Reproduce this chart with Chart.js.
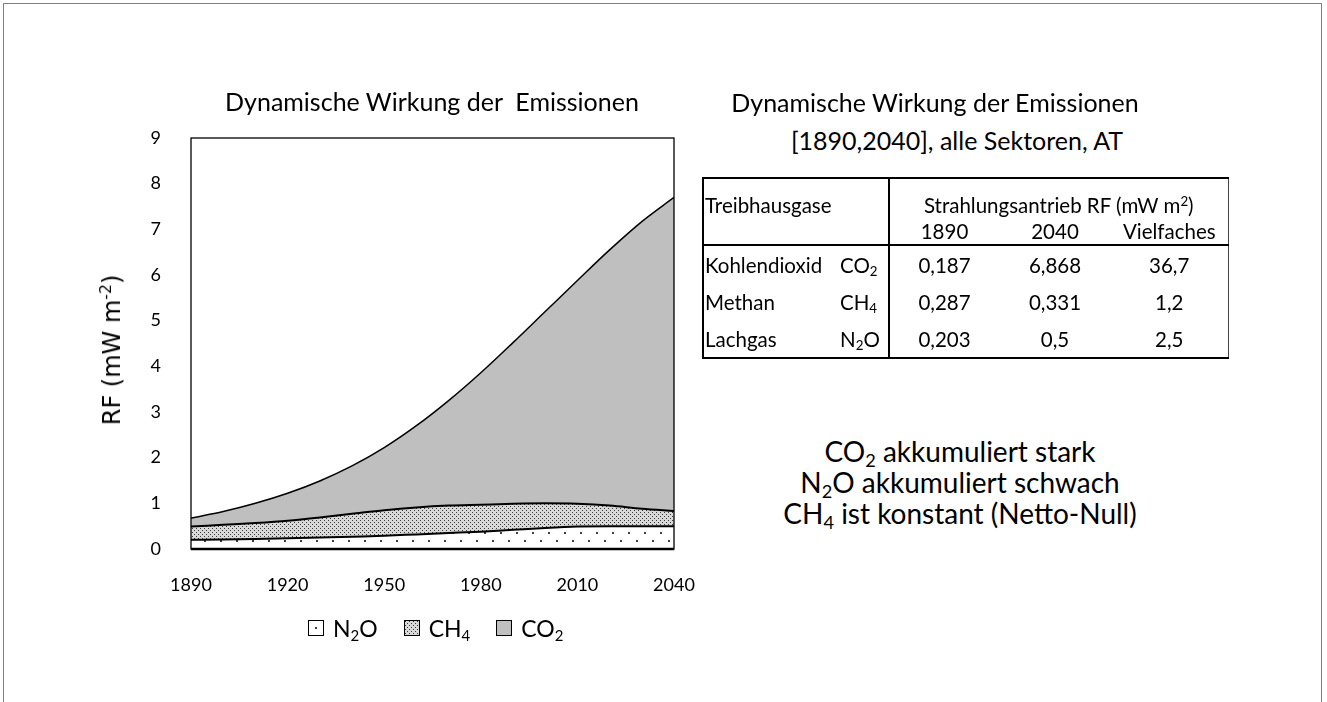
<!DOCTYPE html>
<html>
<head>
<meta charset="utf-8">
<script src="https://cdn.jsdelivr.net/npm/chart.js@4.4.1/dist/chart.umd.min.js"></script>
<style>
    body { margin: 0; background: #fff; font-family: Lato, sans-serif; color: #000; }
    #page { position: relative; width: 1327px; height: 702px; overflow: hidden; background: #fff; }
    #frame { position: absolute; left: 3px; top: 3px; width: 1319px; height: 720px; border: 1px solid #808080; box-sizing: border-box; }
    #chart { position: absolute; left: 0; top: 0; }
    .txt { position: absolute; white-space: pre; transform: translate(-50%, -50%); line-height: 1; }
    sub { font-size: 0.65em; vertical-align: -0.25em; line-height: 0; }
    sup { font-size: 0.65em; vertical-align: 0.55em; line-height: 0; }
    #ytitle { position: absolute; left: 112px; top: 350px; transform: translate(-50%, -50%) rotate(-90deg);
              font-family: "DejaVu Sans", sans-serif; font-size: 24px; white-space: pre; }
    #legend { position: absolute; left: 308px; top: 612px; display: flex; align-items: center; font-size: 23px; height: 32px; }
    #legend .item { display: flex; align-items: center; margin-right: 26px; }
    #legend canvas { border: 1px solid #000; margin-right: 9px; }
    #rf-table { position: absolute; left: 702px; top: 177px; width: 525px; border-collapse: collapse; table-layout: fixed;
                font-size: 20.5px; border-top: 2px solid #000; border-bottom: 2px solid #000; border-left: 2px solid #000; border-right: 1px solid #444; }
    #rf-table td { padding: 0 1px; white-space: nowrap; }
    #rf-table .num { text-align: center; }
    #rf-table .sep { border-right: 2px solid #000; padding-left: 6px; }
    #rf-table tr.h1 td { height: 38px; vertical-align: bottom; padding-bottom: 1px; }
    #rf-table tr.h2 td { height: 26px; border-bottom: 2px solid #000; }
    #rf-table tr.row td { height: 37px; }
    #notes { position: absolute; left: 960px; top: 436px; transform: translateX(-50%); text-align: center; font-size: 28px; line-height: 31px; white-space: pre; }
</style>
</head>
<body>
<div id="page">
    <div id="frame"></div>
    <canvas id="chart" width="720" height="702"></canvas>

    <div class="txt" style="left:432px; top:101px; font-size:25px;">Dynamische Wirkung der  Emissionen</div>
    <div id="ytitle">RF (mW m<sup>-2</sup>)</div>
    <div id="legend"></div>

    <div class="txt" style="left:935px; top:102px; font-size:25px;">Dynamische Wirkung der Emissionen</div>
    <div class="txt" style="left:957px; top:140px; font-size:25px;">[1890,2040], alle Sektoren, AT</div>

    <table id="rf-table">
        <colgroup><col style="width:131px"><col style="width:55px"><col style="width:110px"><col style="width:112px"><col style="width:117px"></colgroup>
        <tr class="h1"><td>Treibhausgase</td><td class="sep"></td><td class="num" colspan="3">Strahlungsantrieb RF (mW m<sup>2</sup>)</td></tr>
        <tr class="h2"><td></td><td class="sep"></td><td class="num">1890</td><td class="num">2040</td><td class="num">Vielfaches</td></tr>
        <tbody id="rf-body"></tbody>
    </table>

    <div id="notes">CO<sub>2</sub> akkumuliert stark
N<sub>2</sub>O akkumuliert schwach
CH<sub>4</sub> ist konstant (Netto-Null)</div>
</div>

<script>
// Jahre und Werte (mW m-2), je Gas einzeln, gestapelt gezeichnet
const years = [1890, 1900, 1910, 1920, 1930, 1940, 1950, 1960, 1970, 1980, 1990, 2000, 2010, 2020, 2030, 2040];
const n2oValues = [0.203, 0.21, 0.22, 0.235, 0.25, 0.27, 0.29, 0.32, 0.35, 0.38, 0.42, 0.46, 0.49, 0.50, 0.50, 0.50];
const ch4Values = [0.287, 0.32, 0.35, 0.385, 0.44, 0.50, 0.56, 0.59, 0.60, 0.59, 0.57, 0.54, 0.50, 0.45, 0.38, 0.331];
const co2Values = [0.187, 0.29, 0.43, 0.60, 0.80, 1.05, 1.37, 1.79, 2.30, 2.89, 3.53, 4.20, 4.89, 5.60, 6.29, 6.868];
const xTicks = [1890, 1920, 1950, 1980, 2010, 2040];

// Tabelle
const gasNames = ['Kohlendioxid', 'Methan', 'Lachgas'];
const gasFormulas = ['CO<sub>2</sub>', 'CH<sub>4</sub>', 'N<sub>2</sub>O'];
const rf1890 = ['0,187', '0,287', '0,203'];
const rf2040 = ['6,868', '0,331', '0,5'];
const factor = ['36,7', '1,2', '2,5'];

const legendLabels = ['N<sub>2</sub>O', 'CH<sub>4</sub>', 'CO<sub>2</sub>'];

const canvas = document.getElementById('chart');
const ctx = canvas.getContext('2d');

function dotPattern(size, dots, bg, fg, dot) {
    const c = document.createElement('canvas');
    c.width = size;
    c.height = size;
    const g = c.getContext('2d');
    g.fillStyle = bg;
    g.fillRect(0, 0, size, size);
    g.fillStyle = fg;
    dots.forEach(([dx, dy]) => g.fillRect(dx, dy, dot, dot));
    return c;
}

const n2oTile = dotPattern(16, [[4, 4], [12, 12]], '#ffffff', '#404040', 2);
const ch4Tile = dotPattern(4, [[0, 0], [2, 2]], '#d9d9d9', '#3a3a3a', 1);
const fills = [ctx.createPattern(n2oTile, 'repeat'), ctx.createPattern(ch4Tile, 'repeat'), '#bfbfbf'];

const series = [n2oValues, ch4Values, co2Values];
const lineWidths = [2, 2, 1.5];

const datasets = series.map((vals, i) => ({
    label: legendLabels[i],
    data: years.map((y, j) => ({ x: y, y: vals[j] })),
    backgroundColor: fills[i],
    borderColor: '#000',
    borderWidth: lineWidths[i],
    pointRadius: 0,
    cubicInterpolationMode: 'monotone',
    fill: i === 0 ? 'origin' : '-1'
}));

// Rahmen um die Zeichenfläche
const framePlugin = {
    id: 'frame',
    afterDatasetsDraw(chart) {
        const { left, top, right, bottom } = chart.chartArea;
        const c = chart.ctx;
        c.save();
        c.strokeStyle = '#000';
        c.lineWidth = 1.3;
        c.strokeRect(left, top, right - left, bottom - top);
        c.lineWidth = 2.5;
        c.beginPath();
        c.moveTo(left, bottom);
        c.lineTo(right, bottom);
        c.stroke();
        c.restore();
    }
};

Chart.defaults.font.family = 'Lato';
Chart.defaults.color = '#000';

new Chart(ctx, {
    type: 'line',
    data: { datasets },
    options: {
        responsive: false,
        animation: false,
        layout: { padding: { left: 0, top: 138, right: 46, bottom: 0 } },
        plugins: { legend: { display: false }, tooltip: { enabled: false } },
        scales: {
            x: {
                type: 'linear',
                min: 1890,
                max: 2040,
                grid: { display: false },
                border: { display: false },
                afterFit: (scale) => { scale.height = 153; },
                afterBuildTicks: (scale) => { scale.ticks = xTicks.map(v => ({ value: v })); },
                ticks: { font: { size: 18 }, padding: 17, maxRotation: 0, callback: (v) => String(v) }
            },
            y: {
                stacked: true,
                min: 0,
                max: 9,
                grid: { display: false },
                border: { display: false },
                afterFit: (scale) => { scale.width = 191; },
                ticks: { stepSize: 1, font: { size: 18 }, padding: 22 }
            }
        }
    },
    plugins: [framePlugin]
});

// Legende
const legend = document.getElementById('legend');
[n2oTile, ch4Tile, null].forEach((tile, i) => {
    const item = document.createElement('div');
    item.className = 'item';
    const sw = document.createElement('canvas');
    sw.width = 14;
    sw.height = 14;
    const g = sw.getContext('2d');
    if (i === 0) {
        g.fillStyle = '#fff';
        g.fillRect(0, 0, 14, 14);
        g.fillStyle = '#404040';
        g.fillRect(6, 6, 2, 2);
    } else if (tile) {
        g.fillStyle = g.createPattern(tile, 'repeat');
        g.fillRect(0, 0, 14, 14);
    } else {
        g.fillStyle = fills[2];
        g.fillRect(0, 0, 14, 14);
    }
    const label = document.createElement('span');
    label.innerHTML = legendLabels[i];
    item.appendChild(sw);
    item.appendChild(label);
    legend.appendChild(item);
});

// Tabellenzeilen
const body = document.getElementById('rf-body');
gasNames.forEach((name, i) => {
    const tr = document.createElement('tr');
    tr.className = 'row';
    tr.innerHTML = `
        <td>${name}</td>
        <td class="sep">${gasFormulas[i]}</td>
        <td class="num">${rf1890[i]}</td>
        <td class="num">${rf2040[i]}</td>
        <td class="num">${factor[i]}</td>`;
    body.appendChild(tr);
});
</script>
</body>
</html>
